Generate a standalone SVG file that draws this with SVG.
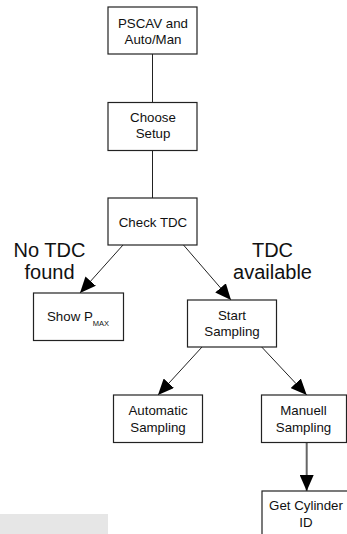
<svg xmlns="http://www.w3.org/2000/svg" width="347" height="534" viewBox="0 0 347 534">
<style>
.box{fill:#fff;stroke:#222;stroke-width:1.2}
.t{font-family:"Liberation Sans",Arial,sans-serif;font-size:13.3px;fill:#111;text-anchor:middle}
.big{font-family:"Liberation Sans",Arial,sans-serif;font-size:20px;fill:#111;text-anchor:middle}
.ln{stroke:#222;stroke-width:1;fill:none}
.ar{stroke:#222;stroke-width:1;fill:none;marker-end:url(#ah)}
.arg{stroke:#666;stroke-width:2;fill:none;marker-end:url(#ah)}
</style>
<defs>
<marker id="ah" markerUnits="userSpaceOnUse" markerWidth="16" markerHeight="14" viewBox="0 0 16 14" refX="16" refY="7" orient="auto">
<path d="M0,0 L16,7 L0,14 Z" fill="#000"/>
</marker>
</defs>
<rect x="0" y="514" width="108" height="20" fill="#e6e6e6"/>
<g id="connectors">
<line class="ln" x1="152.5" y1="54" x2="152.5" y2="102.5"/>
<line class="ln" x1="152.5" y1="150.5" x2="152.5" y2="198"/>
<line class="ar" x1="123" y1="245" x2="80" y2="293"/>
<line class="ar" x1="183.5" y1="245" x2="231" y2="300"/>
<line class="ar" x1="202" y1="347" x2="158" y2="395"/>
<line class="ar" x1="261.7" y1="347" x2="306.7" y2="395"/>
<line class="arg" x1="306.7" y1="442.5" x2="306.7" y2="491"/>
</g>
<g id="pscav">
<rect class="box" x="108" y="7" width="89" height="47"/>
<text class="t" x="153" y="27.5">PSCAV and</text>
<text class="t" x="153" y="43.5">Auto/Man</text>
</g>
<g id="choose">
<rect class="box" x="108" y="102.5" width="89" height="48"/>
<text class="t" x="153" y="122">Choose</text>
<text class="t" x="153" y="138">Setup</text>
</g>
<g id="check">
<rect class="box" x="108" y="198" width="89" height="47"/>
<text class="t" x="153" y="226.5">Check TDC</text>
</g>
<g id="label-no">
<text class="big" x="49.5" y="256.5">No TDC</text>
<text class="big" x="49.5" y="278.5">found</text>
</g>
<g id="label-yes">
<text class="big" x="272.5" y="256.5">TDC</text>
<text class="big" x="272.5" y="278.5">available</text>
</g>
<g id="showpmax">
<rect class="box" x="33.5" y="293" width="90" height="47.5"/>
<text class="t" x="47" y="320.5" style="text-anchor:start">Show P<tspan font-size="7.5px" dy="5">MAX</tspan></text>
</g>
<g id="start">
<rect class="box" x="187.5" y="300" width="89" height="47"/>
<text class="t" x="232" y="319.5">Start</text>
<text class="t" x="232" y="336">Sampling</text>
</g>
<g id="auto">
<rect class="box" x="113.5" y="395" width="89" height="47.5"/>
<text class="t" x="158" y="415">Automatic</text>
<text class="t" x="158" y="431.5">Sampling</text>
</g>
<g id="manuell">
<rect class="box" x="261.5" y="395" width="85" height="47.5"/>
<text class="t" x="303.5" y="415">Manuell</text>
<text class="t" x="303.5" y="431.5">Sampling</text>
</g>
<g id="getcyl">
<rect class="box" x="262" y="491" width="92" height="50"/>
<text class="t" x="306" y="510">Get Cylinder</text>
<text class="t" x="306" y="526.5">ID</text>
</g>
</svg>
